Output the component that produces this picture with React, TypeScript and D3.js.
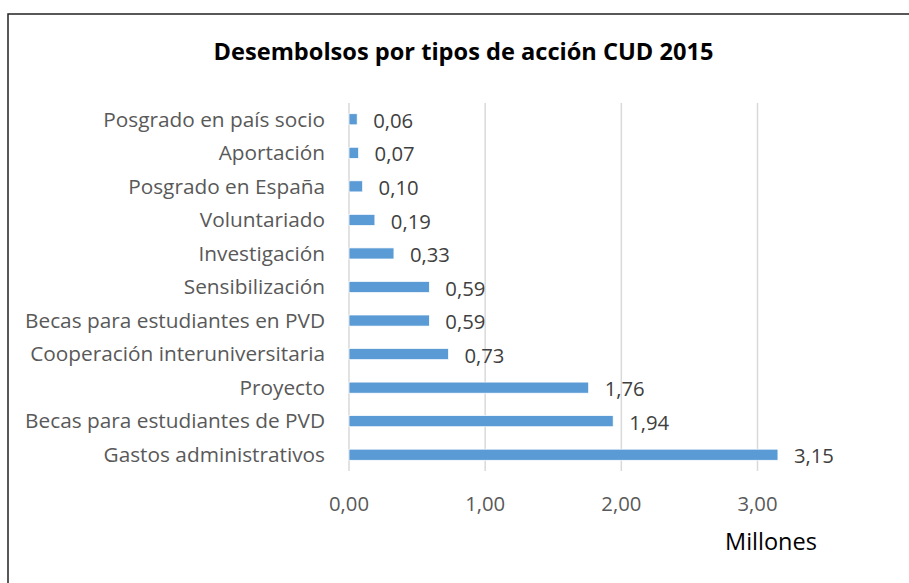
import { useEffect, useRef } from "react";
import * as d3 from "d3";

const CATEGORIES = [
  "Posgrado en país socio",
  "Aportación",
  "Posgrado en España",
  "Voluntariado",
  "Investigación",
  "Sensibilización",
  "Becas para estudiantes en PVD",
  "Cooperación interuniversitaria",
  "Proyecto",
  "Becas para estudiantes de PVD",
  "Gastos administrativos",
];
const VALUES = [0.06, 0.07, 0.1, 0.19, 0.33, 0.59, 0.59, 0.73, 1.76, 1.94, 3.15];
const X_TICKS = [0, 1, 2, 3];

const FONT = "'Open Sans', sans-serif";
const fmt = (v: number) => v.toFixed(2).replace(".", ",");

export default function App() {
  const svgRef = useRef<SVGSVGElement>(null);

  useEffect(() => {
    if (!svgRef.current) return;
    const svg = d3.select(svgRef.current);
    svg.selectAll("*").remove();

    // frame (cut off at right and bottom like the source)
    svg.append("rect")
      .attr("x", 8).attr("y", 14).attr("width", 960).attr("height", 640)
      .attr("fill", "#fff").attr("stroke", "#222").attr("stroke-width", 1.5);

    svg.append("text")
      .attr("x", 463.5).attr("y", 60)
      .attr("text-anchor", "middle")
      .attr("font-family", FONT).attr("font-weight", "bold")
      .attr("font-size", 23.6).attr("fill", "#000")
      .text("Desembolsos por tipos de acción CUD 2015");

    const x = d3.scaleLinear().domain([0, 3]).range([349, 757.5]);
    const y = d3.scaleBand<string>().domain(CATEGORIES).range([102.5, 471.5]).paddingInner(0.67).paddingOuter(0.335);

    // gridlines
    svg.append("g").selectAll("line")
      .data(X_TICKS)
      .join("line")
      .attr("x1", (d) => x(d)).attr("x2", (d) => x(d))
      .attr("y1", 103).attr("y2", 471)
      .attr("stroke", "#d9d9d9").attr("stroke-width", 1.5);

    // bars
    svg.append("g").selectAll("rect")
      .data(VALUES)
      .join("rect")
      .attr("x", x(0))
      .attr("y", (_, i) => y(CATEGORIES[i])!)
      .attr("width", (d) => x(d) - x(0))
      .attr("height", y.bandwidth())
      .attr("fill", "#5b9bd5")
      .attr("stroke", "#fff").attr("stroke-width", 0.7);

    // value labels
    svg.append("g").selectAll("text")
      .data(VALUES)
      .join("text")
      .attr("x", (d) => x(d) + 16)
      .attr("y", (_, i) => y(CATEGORIES[i])! + y.bandwidth() / 2 + 1.5)
      .attr("dy", "0.35em")
      .attr("font-family", FONT).attr("font-size", 20.3).attr("fill", "#404040")
      .text((d) => fmt(d));

    // category labels
    svg.append("g").selectAll("text")
      .data(CATEGORIES)
      .join("text")
      .attr("x", 325)
      .attr("y", (d) => y(d)! + y.bandwidth() / 2)
      .attr("dy", "0.35em")
      .attr("text-anchor", "end")
      .attr("font-family", FONT).attr("font-size", 20.8).attr("fill", "#595959")
      .text((d) => d);

    // x tick labels
    svg.append("g").selectAll("text")
      .data(X_TICKS)
      .join("text")
      .attr("x", (d) => x(d))
      .attr("y", 504)
      .attr("dy", "0.35em")
      .attr("text-anchor", "middle")
      .attr("font-family", FONT).attr("font-size", 20.3).attr("fill", "#595959")
      .text((d) => fmt(d));

    svg.append("text")
      .attr("x", 771).attr("y", 541.5)
      .attr("dy", "0.35em")
      .attr("text-anchor", "middle")
      .attr("font-family", FONT).attr("font-size", 23.5).attr("fill", "#000")
      .text("Millones");
  }, []);

  return (
    <svg
      ref={svgRef}
      width={909}
      height={583}
      style={{ position: "absolute", left: 0, top: 0, background: "#fff" }}
    />
  );
}
